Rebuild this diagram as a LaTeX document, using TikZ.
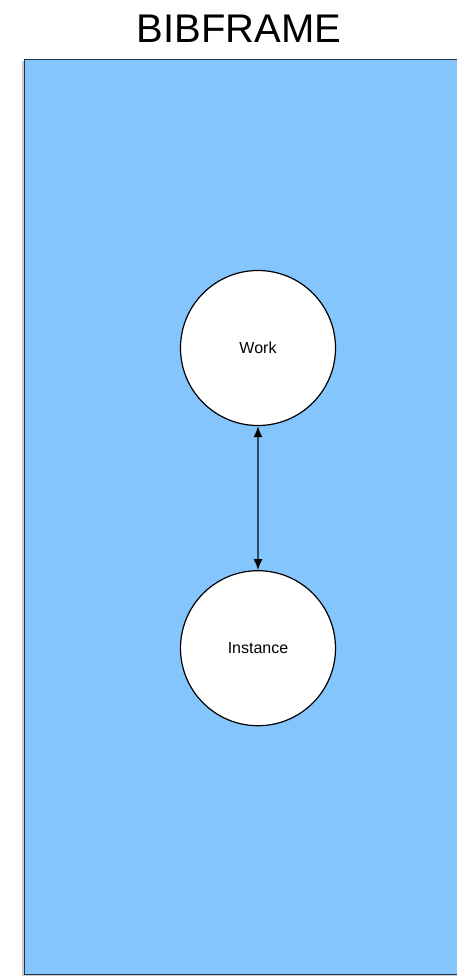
\documentclass[tikz,border=0pt]{standalone}
\usepackage{fontspec}
\setmainfont{Liberation Sans}
\usetikzlibrary{positioning,arrows.meta}
\definecolor{panelblue}{HTML}{85C5FD}
\definecolor{edgeline}{HTML}{2E4A66}

\begin{document}
\begin{tikzpicture}[x=1pt,y=1pt,node distance=144pt,
    class/.style={circle,draw,fill=white,line width=1.2pt,minimum size=155pt,inner sep=0pt,font=\fontsize{16}{18}\selectfont}]
  \useasboundingbox (0,0) rectangle (457,-976);
  % panel
  \fill[black!20] (22,-61) rectangle (470,-975.5);
  \draw[fill=panelblue,draw=edgeline!70!black,line width=1pt] (24.5,-60) rectangle (470,-974);
  \node (title) at (239,-29) {\fontsize{40}{46}\selectfont BIBFRAME};

  \node[class] (work) at (258,-348) {Work};
  \node[class] (instance) [below=of work] {Instance};

  \path (work) edge[{Latex[length=11pt,width=9pt,black]}-{Latex[length=11pt,width=9pt,black]},draw=edgeline,line width=1.6pt] (instance);
\end{tikzpicture}
\end{document}
